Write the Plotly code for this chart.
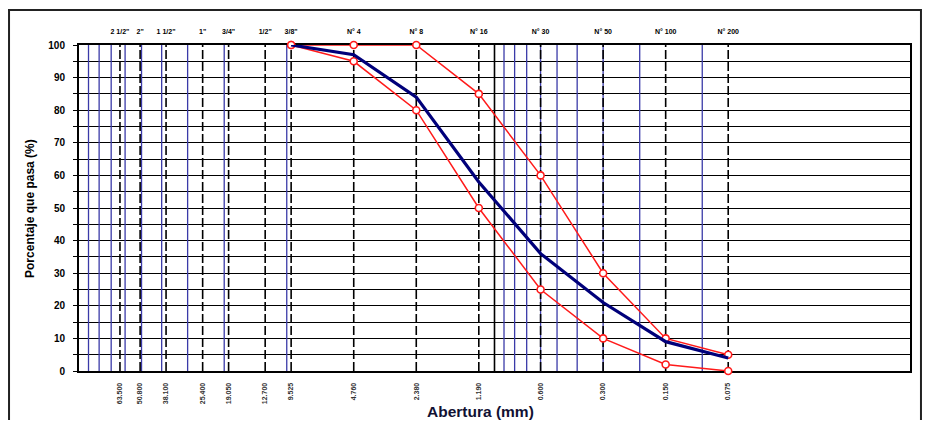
import plotly.graph_objects as go

# ---- data ----
sieve_names = ['2 1/2"', '2"', '1 1/2"', '1"', '3/4"', '1/2"', '3/8"',
               'N° 4', 'N° 8', 'N° 16', 'N° 30', 'N° 50', 'N° 100', 'N° 200']
sieve_mm = [63.5, 50.8, 38.1, 25.4, 19.05, 12.7, 9.525,
            4.76, 2.38, 1.19, 0.6, 0.3, 0.15, 0.075]
sieve_mm_text = ['63.500', '50.800', '38.100', '25.400', '19.050', '12.700', '9.525',
                 '4.760', '2.380', '1.190', '0.600', '0.300', '0.150', '0.075']

curve_sizes = [9.525, 4.76, 2.38, 1.19, 0.6, 0.3, 0.15, 0.075]
curve_pass = [100, 97, 84, 58, 36, 21, 9, 4]
upper_pass = [100, 100, 100, 85, 60, 30, 10, 5]
lower_pass = [100, 95, 80, 50, 25, 10, 2, 0]

blue_grid = [90, 80, 70, 60, 50, 40, 30, 20, 10,
             0.9, 0.8, 0.7, 0.6, 0.5, 0.4, 0.3, 0.2, 0.1]
black_grid = [1]

y_ticks = list(range(0, 101, 10))


def vlines(xs):
    X, Y = [], []
    for v in xs:
        X += [v, v, None]
        Y += [0, 100, None]
    return X, Y


fig = go.Figure()

bx, by = vlines(blue_grid)
fig.add_trace(go.Scatter(x=bx, y=by, mode='lines', line=dict(color='#3a3aa8', width=1.3),
                         hoverinfo='skip', showlegend=False))
kx, ky = vlines(black_grid)
fig.add_trace(go.Scatter(x=kx, y=ky, mode='lines', line=dict(color='black', width=1.6),
                         hoverinfo='skip', showlegend=False))
sx, sy = vlines(sieve_mm)
fig.add_trace(go.Scatter(x=sx, y=sy, mode='lines',
                         line=dict(color='black', width=1.6, dash='9px,3px'),
                         hoverinfo='skip', showlegend=False))

marker = dict(symbol='circle', size=7, color='white', line=dict(color='#ff1a1a', width=1.6))
fig.add_trace(go.Scatter(x=curve_sizes, y=upper_pass, mode='lines+markers', cliponaxis=False,
                         line=dict(color='#ff1a1a', width=1.5), marker=marker, showlegend=False))
fig.add_trace(go.Scatter(x=curve_sizes, y=lower_pass, mode='lines+markers', cliponaxis=False,
                         line=dict(color='#ff1a1a', width=1.5), marker=marker, showlegend=False))
fig.add_trace(go.Scatter(x=curve_sizes, y=curve_pass, mode='lines', cliponaxis=False,
                         line=dict(color='#00007a', width=3.2), showlegend=False))

font_b = 'Liberation Sans'

# page has an 8px body margin, so the figure is sized to fit inside it
fig.update_layout(
    width=914, height=412,
    margin=dict(l=71, r=12, t=37, b=49, autoexpand=False),
    paper_bgcolor='white', plot_bgcolor='white',
    font=dict(family=font_b, color='black'),
    xaxis=dict(type='log', range=[2, -2], showgrid=False, zeroline=False,
               showline=True, linecolor='black', linewidth=2, mirror=True,
               layer='below traces',
               tickmode='array', tickvals=sieve_mm, ticktext=sieve_mm_text,
               tickangle=-90, ticks='', ticklabelstandoff=7,
               tickfont=dict(size=7, family=font_b, color='#333', weight='bold')),
    xaxis2=dict(type='log', range=[2, -2], overlaying='x', side='top',
                showgrid=False, zeroline=False, showline=False,
                tickmode='array', tickvals=sieve_mm, ticktext=sieve_names,
                ticks='', ticklabelstandoff=9,
                tickfont=dict(size=7, family=font_b, color='black', weight='bold')),
    yaxis=dict(range=[0, 100], tickmode='array', tickvals=y_ticks,
               showgrid=True, gridcolor='black', gridwidth=1.3,
               minor=dict(dtick=5, showgrid=True, gridcolor='black', gridwidth=1.3,
                          ticks='outside', ticklen=4, tickcolor='black'),
               ticks='outside', ticklen=4, tickcolor='black',
               zeroline=False, showline=True, linecolor='black', linewidth=2, mirror=True,
               layer='below traces',
               ticklabelstandoff=6,
               tickfont=dict(size=10, family=font_b, color='black', weight='bold')),
    annotations=[
        dict(text='Porcentaje que pasa (%)', xref='paper', yref='paper',
             x=-0.059, y=0.5, xanchor='center', yanchor='middle',
             textangle=-90, showarrow=False,
             font=dict(size=12, family=font_b, color='black', weight='bold')),
        dict(text='Abertura (mm)', xref='paper', yref='paper',
             x=0.4826, y=-0.1227, xanchor='center', yanchor='middle', showarrow=False,
             font=dict(size=15.5, family=font_b, color='#111133', weight='bold')),
    ],
    shapes=[
        dict(type='rect', xref='paper', yref='paper',
             x0=-0.0842, x1=1.0132, y0=-0.17, y1=1.1075,
             line=dict(color='#222', width=2), fillcolor='rgba(0,0,0,0)', layer='below'),
    ],
)

# invisible point so the top axis is drawn
fig.add_trace(go.Scatter(x=[10], y=[50], xaxis='x2', mode='markers',
                         marker=dict(opacity=0), hoverinfo='skip', showlegend=False))

fig.write_html('out.html')
